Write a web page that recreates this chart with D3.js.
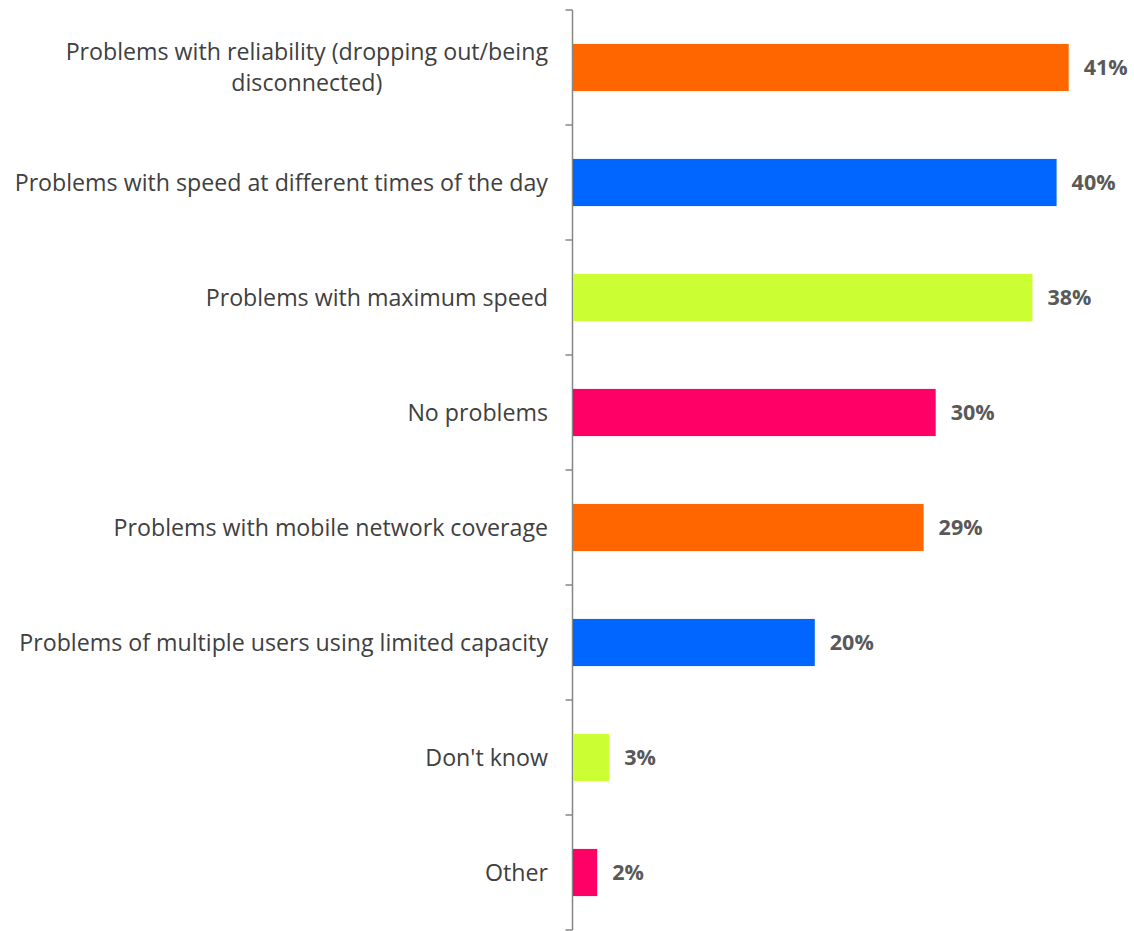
<!DOCTYPE html>
<html>
<head>
<meta charset="utf-8">
<script src="https://cdn.jsdelivr.net/npm/d3@7"></script>
<style>
  html, body { margin: 0; padding: 0; background: #fff; }
  svg { display: block; }
</style>
</head>
<body>
<svg id="chart" width="1134" height="931"></svg>
<script>
// Reported connection problems, share of respondents (%)
const categories = [
  "Problems with reliability (dropping out/being disconnected)",
  "Problems with speed at different times of the day",
  "Problems with maximum speed",
  "No problems",
  "Problems with mobile network coverage",
  "Problems of multiple users using limited capacity",
  "Don't know",
  "Other"
];
const values = [41, 40, 38, 30, 29, 20, 3, 2];
const barColors = ["#FF6600", "#0066FF", "#CCFF33", "#FF0066", "#FF6600", "#0066FF", "#CCFF33", "#FF0066"];
// Line breaks used for the wrapped category labels
const labelLines = {
  "Problems with reliability (dropping out/being disconnected)": ["Problems with reliability (dropping out/being", "disconnected)"]
};

const svg = d3.select("#chart");
const margin = { top: 10, left: 573, right: 0, bottom: 1 };
const height = 931;

const x = d3.scaleLinear().domain([0, 45]).range([margin.left, margin.left + 45 * 12.09]);
const y = d3.scaleBand().domain(categories).range([margin.top, height - margin.bottom]).paddingInner(0.59).paddingOuter(0.295);

// Category axis with ticks at band boundaries
const axisX = 572.5;
const bounds = d3.range(categories.length + 1).map(i => margin.top + i * ((height - margin.bottom - margin.top) / categories.length));
const axisG = svg.append("g");
axisG.append("line")
  .attr("x1", axisX).attr("x2", axisX)
  .attr("y1", bounds[0]).attr("y2", bounds[bounds.length - 1])
  .attr("stroke", "#868686").attr("stroke-width", 1.5);
axisG.selectAll("line.tick").data(bounds).enter().append("line")
  .attr("class", "tick")
  .attr("x1", axisX - 7).attr("x2", axisX)
  .attr("y1", d => d).attr("y2", d => d)
  .attr("stroke", "#868686").attr("stroke-width", 1.5);

// Bars
svg.append("g").selectAll("rect").data(categories).enter().append("rect")
  .attr("x", x(0))
  .attr("y", d => y(d))
  .attr("width", (d, i) => x(values[i]) - x(0))
  .attr("height", y.bandwidth())
  .attr("fill", (d, i) => barColors[i]);

// Value labels
svg.append("g").selectAll("text").data(categories).enter().append("text")
  .attr("x", (d, i) => x(values[i]) + 15)
  .attr("y", d => y(d) + y.bandwidth() / 2)
  .attr("dy", "0.36em")
  .attr("font-family", "'Open Sans', sans-serif")
  .attr("font-size", 21.5)
  .attr("font-weight", "bold")
  .attr("fill", "#595959")
  .text((d, i) => values[i] + "%");

// Category labels, right-aligned block, centred lines when wrapped
const labelG = svg.append("g")
  .attr("font-family", "'Open Sans', sans-serif")
  .attr("font-size", 23.2)
  .attr("fill", "#404040");
const rightEdge = 548;
const lineH = 31;
categories.forEach(c => {
  const lines = labelLines[c] || [c];
  const cy = y(c) + y.bandwidth() / 2;
  const t = labelG.append("text");
  const spans = lines.map((ln, i) => t.append("tspan").text(ln));
  const widths = spans.map(s => s.node().getComputedTextLength());
  const maxW = d3.max(widths);
  const cx = rightEdge - maxW / 2;
  spans.forEach((s, i) => {
    s.attr("x", cx)
     .attr("y", cy + (i - (lines.length - 1) / 2) * lineH)
     .attr("dy", "0.35em")
     .attr("text-anchor", "middle");
  });
});
</script>
</body>
</html>
